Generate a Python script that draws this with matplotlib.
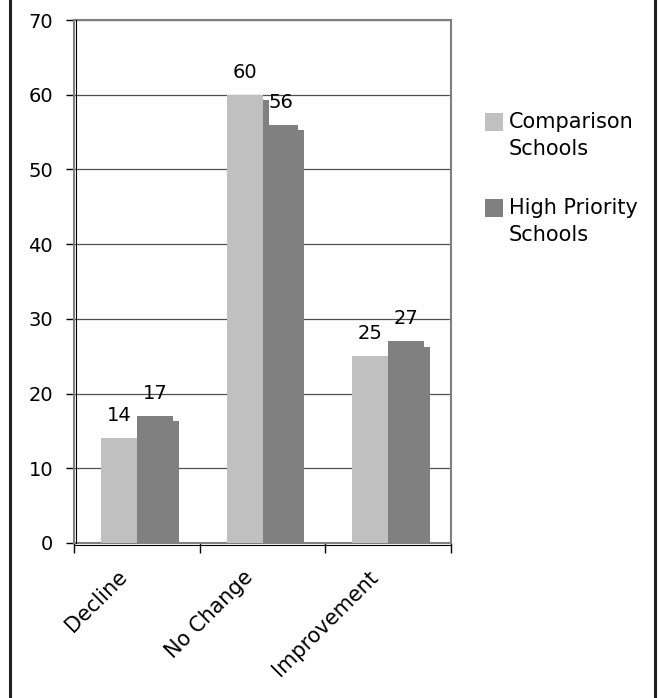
import matplotlib
matplotlib.use("Agg")
import matplotlib.pyplot as plt
import numpy as np
from matplotlib.lines import Line2D
from matplotlib.patches import Rectangle
from matplotlib.transforms import ScaledTranslation

CATEGORIES = ["Decline", "No Change", "Improvement"]
SERIES = ["Comparison\nSchools", "High Priority\nSchools"]
COMPARISON = [14, 60, 25]
HIGH_PRIORITY = [17, 56, 27]
Y_TICKS = [0, 10, 20, 30, 40, 50, 60, 70]

COLORS = ["#C0C0C0", "#808080"]
SIDE_COLOR = "#808080"
WALL_COLOR = "#808080"
BAR_WIDTH = 0.286
SIDE_WIDTH = 0.048
SIDE_DROP = 0.7

W, H = 660, 698
fig = plt.figure(figsize=(W / 100, H / 100), dpi=100)
ax = fig.add_axes([74 / W, 1 - 543 / H, (451 - 74) / W, (543 - 20) / H])

x = np.arange(len(CATEGORIES))
for i, (values, color) in enumerate(zip([COMPARISON, HIGH_PRIORITY], COLORS)):
    values = np.array(values)
    left = x - BAR_WIDTH + i * BAR_WIDTH
    # thin side face to the right of each column, sitting a little lower
    ax.bar(left + BAR_WIDTH, values - SIDE_DROP, width=SIDE_WIDTH, align="edge",
           color=SIDE_COLOR, linewidth=0, zorder=2)
    ax.bar(left, values, width=BAR_WIDTH, align="edge", color=color,
           linewidth=0, zorder=3)
    for xl, v in zip(left, values):
        ax.text(xl + BAR_WIDTH / 2, v + 3, str(v), ha="center", va="center",
                fontsize=14, zorder=4)

ax.set_xlim(-0.5, len(CATEGORIES) - 0.5)
ax.set_ylim(Y_TICKS[0], Y_TICKS[-1])
ax.set_yticks(Y_TICKS)
ax.yaxis.grid(True, color="#505050", linewidth=0.9)
ax.set_axisbelow(True)

# category boundaries get the tick marks, names sit on the centres
ax.set_xticks(np.arange(len(CATEGORIES) + 1) - 0.5)
ax.set_xticklabels([])
ax.set_xticks(x, minor=True)
ax.set_xticklabels(CATEGORIES, minor=True, rotation=45, ha="right", fontsize=15)
ax.tick_params(axis="x", which="major", direction="out", length=7, width=1, color="black")
ax.tick_params(axis="x", which="minor", length=0, pad=17)
ax.tick_params(axis="y", direction="out", length=6, width=1, color="black",
               labelsize=14, pad=9)
shift = ScaledTranslation(-6 / 100, 0, fig.dpi_scale_trans)
for label in ax.get_xticklabels(minor=True):
    label.set_transform(label.get_transform() + shift)

for side in ["top", "right", "left", "bottom"]:
    ax.spines[side].set_color(WALL_COLOR)
    ax.spines[side].set_linewidth(1.5)

# black axis lines in front of the wall
right_shift = ax.transAxes + ScaledTranslation(1.5 / 100, 0, fig.dpi_scale_trans)
ax.add_line(Line2D([0, 0], [0, 1], transform=right_shift, color="black",
                   linewidth=0.8, clip_on=False, zorder=5))
down_shift = ax.transAxes + ScaledTranslation(0, -2 / 100, fig.dpi_scale_trans)
ax.add_line(Line2D([0, 1], [0, 0], transform=down_shift, color="black",
                   linewidth=0.8, clip_on=False, zorder=5))

# legend
for k, (name, color) in enumerate(zip(SERIES, COLORS)):
    top = 113 + k * 86
    fig.add_artist(Rectangle((485 / W, 1 - (top + 18) / H), 18 / W, 18 / H,
                             transform=fig.transFigure, color=color, linewidth=0))
    fig.text(509 / W, 1 - (top - 1) / H, name, va="top", ha="left",
             fontsize=15, linespacing=1.45)

# frame around the chart
for xp in [10.5, 654.5]:
    fig.add_artist(Line2D([xp / W, xp / W], [0, 1], transform=fig.transFigure,
                          color="#202020", linewidth=2.2))

fig.savefig("out.png", dpi=100)
